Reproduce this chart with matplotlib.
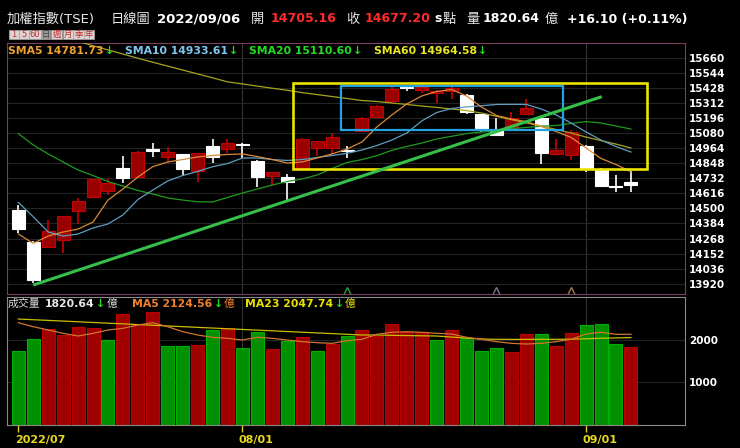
import numpy as np
import matplotlib.pyplot as plt
from matplotlib.patches import Rectangle
from matplotlib.text import Annotation

# 加權指數 日K 2022/07/11 ~ 2022/09/06
open_ = [14487, 14243, 14200, 14256, 14482, 14590, 14636, 14813, 14744, 14950,
         14898, 14916, 14790, 14980, 14955, 14992, 14865, 14752, 14744, 14808,
         14967, 14967, 14948, 15093, 15201, 15327, 15436, 15411, 15386, 15406,
         15373, 15224, 15103, 15121, 15224, 15198, 14916, 14911, 14982, 14795,
         14674, 14705.16]
high = [14526, 14250, 14411, 14445, 14582, 14728, 14724, 14903, 14940, 15001,
        14970, 14920, 14928, 15032, 15032, 15000, 14870, 14780, 14762, 15040,
        15022, 15083, 14982, 15200, 15292, 15444, 15440, 15470, 15410, 15437,
        15378, 15226, 15193, 15244, 15342, 15206, 15034, 15103, 14985, 14813,
        14757, 14788]
low = [14313, 13928, 14195, 14159, 14380, 14585, 14601, 14693, 14732, 14898,
       14859, 14749, 14705, 14852, 14929, 14886, 14662, 14680, 14559, 14800,
       14903, 14919, 14885, 15088, 15198, 15309, 15404, 15391, 15309, 15340,
       15224, 15090, 15058, 15115, 15220, 14839, 14910, 14872, 14778, 14670,
       14628, 14624]
close = [14339, 13948, 14326, 14441, 14557, 14724, 14698, 14731, 14936, 14945,
         14936, 14803, 14924, 14898, 15001, 14985, 14744, 14778, 14701, 15034,
         15019, 15052, 14942, 15198, 15290, 15420, 15427, 15432, 15404, 15424,
         15244, 15111, 15065, 15198, 15275, 14924, 14949, 15090, 14813, 14675,
         14661.10, 14677.20]

sma5 = [14303, 14231, 14287, 14318, 14341, 14395, 14564, 14649, 14741, 14821,
        14857, 14876, 14896, 14907, 14915, 14919, 14899, 14876, 14849, 14857,
        14888, 14919, 14957, 15011, 15127, 15219, 15304, 15365, 15400, 15415,
        15365, 15280, 15215, 15188, 15168, 15130, 15092, 15046, 14965, 14884,
        14838, 14781.73]
sma10 = [14546, 14436, 14318, 14287, 14303, 14349, 14380, 14449, 14568, 14641,
         14711, 14753, 14784, 14821, 14845, 14888, 14888, 14876, 14869, 14876,
         14892, 14907, 14924, 14949, 14984, 15026, 15080, 15173, 15238, 15269,
         15281, 15290, 15300, 15301, 15300, 15265, 15219, 15157, 15088, 15026,
         14976, 14933.61]
sma20 = [15076, 14988, 14919, 14857, 14795, 14753, 14707, 14672, 14638, 14611,
         14580, 14564, 14551, 14549, 14584, 14618, 14649, 14680, 14707, 14726,
         14757, 14807, 14853, 14876, 14906, 14947, 14977, 15003, 15034, 15055,
         15076, 15088, 15100, 15114, 15123, 15132, 15138, 15154, 15168, 15157,
         15134, 15110.60]
sma60 = [15905, 15875, 15845, 15815, 15785, 15752, 15720, 15688, 15656, 15625,
         15595, 15565, 15535, 15505, 15474, 15458, 15441, 15425, 15409, 15391,
         15376, 15361, 15346, 15330, 15323, 15311, 15300, 15288, 15277, 15265,
         15253, 15234, 15209, 15183, 15158, 15134, 15107, 15080, 15049, 15022,
         14995, 14964.58]

# 成交量(億)
volume = [1740, 2007, 2241, 2108, 2303, 2279, 1984, 2593, 2373, 2646,
          1850, 1850, 1874, 2218, 2272, 1796, 2186, 1780, 1975, 2061,
          1740, 1890, 2084, 2225, 2084, 2365, 2186, 2186, 1990, 2225,
          2030, 1740, 1796, 1710, 2138, 2124, 1850, 2162, 2335, 2365,
          1897, 1820.64]
vol_dir = "GGRRRRGRRRGGRGRGGRGRGRGRRRRRGRGGGRRGRRGGGR"
vol_ma5 = [2396, 2303, 2225, 2147, 2084, 2147, 2225, 2264, 2342, 2396,
           2303, 2186, 2108, 2054, 2030, 1991, 2054, 2030, 1991, 1952,
           1928, 1913, 1975, 2007, 2124, 2171, 2186, 2171, 2147, 2131,
           2054, 2007, 1952, 1913, 1897, 1913, 1952, 2007, 2131, 2171,
           2124, 2124.56]
vol_ma23 = [2482, 2466, 2450, 2434, 2418, 2401, 2385, 2369, 2352, 2336,
            2319, 2303, 2287, 2271, 2254, 2238, 2222, 2206, 2189, 2173,
            2157, 2141, 2124, 2108, 2108, 2100, 2095, 2090, 2084, 2060,
            2035, 2015, 2007, 2005, 2005, 2007, 2007, 2010, 2020, 2032,
            2040, 2047.74]

price_ticks = [15660, 15544, 15428, 15312, 15196, 15080, 14964, 14848,
               14732, 14616, 14500, 14384, 14268, 14152, 14036, 13920]
vol_ticks = [1000, 2000]
date_ticks = [0, 15, 38]
date_labels = ['2022/07', '08/01', '09/01']

# 手繪標註 (K棒序號, 價位)
trend_line = [(1.0, 13910), (39.05, 15360)]
yellow_box = [(18.4, 14803), (42.1, 15463)]
blue_box = [(21.58, 15103), (36.48, 15444)]
gap_marks = [(21.98, '#2f9a3f'), (32.0, '#6f7f8f'), (37.0, '#a08050')]

plt.rcParams['font.family'] = ['DejaVu Sans', 'Noto Sans CJK TC']

W, H = 740, 448
fig = plt.figure(figsize=(W / 100, H / 100), dpi=100, facecolor='black')


def box(x0, y0, x1, y1):
    return [x0 / W, 1 - y1 / H, (x1 - x0) / W, (y1 - y0) / H]


def ftext(x, y, s, color, size=9, weight='normal'):
    return fig.text(x / W, 1 - y / H, s, color=color, fontsize=size,
                    fontweight=weight, ha='left', va='center', zorder=10)


def chain(x, y, pieces, size=8):
    # 依序接在前一段文字後面
    prev = ftext(x, y, pieces[0][0], pieces[0][1], size, pieces[0][2])
    for s, col, wt, gap in pieces[1:]:
        prev = fig.add_artist(Annotation(
            s, xy=(1, 0.5), xycoords=prev, xytext=(gap, 0),
            textcoords='offset points', color=col, fontsize=size,
            fontweight=wt, ha='left', va='center', zorder=10))


idx = np.arange(len(close))
o = np.array(open_)
c = np.array(close)
up = c >= o

# ---- 價格圖 ----
ax = fig.add_axes(box(6.5, 43, 685, 294), facecolor='black')
ax.set_xlim(-0.79, 44.62)
ax.set_ylim(13841, 15773)
ax.set_yticks(price_ticks)
ax.set_yticklabels([str(v) for v in price_ticks], fontweight='bold')
ax.yaxis.tick_right()
ax.tick_params(axis='y', length=0, pad=3, labelcolor='white', labelsize=7.5)
ax.set_xticks([])
ax.grid(axis='y', color='#242424', lw=0.8)
for t in date_ticks[1:]:
    ax.axvline(t, color='#333333', lw=0.8, zorder=0)
for s in ax.spines.values():
    s.set_color('#7b3f63')

wick_col = np.where(up, '#cc0000', 'white')
body_col = np.where(up, '#9b0000', 'white')
edge_col = np.where(up, '#c40000', 'white')
ax.vlines(idx, low, high, colors=wick_col, lw=1.2, zorder=2)
ax.bar(idx, np.maximum(np.abs(c - o), 10), 0.87, bottom=np.minimum(o, c),
       color=body_col, edgecolor=edge_col, lw=0.8, zorder=3)

ax.plot(idx, sma60, color='#a8a41e', lw=0.9, zorder=4)
ax.plot(idx, sma20, color='#1f9b1f', lw=0.9, zorder=4)
ax.plot(idx, sma10, color='#5f9ec0', lw=0.9, zorder=4)
ax.plot(idx, sma5, color='#d98a3a', lw=0.9, zorder=4)

for x, col in gap_marks:
    ax.plot(x, 13866, marker='^', mfc='none', mec=col, ms=6, ls='none')

(bx0, by0), (bx1, by1) = yellow_box
ax.add_patch(Rectangle((bx0, by0), bx1 - bx0, by1 - by0, fill=False,
                       edgecolor='#ece400', lw=1.9, zorder=6))
(bx0, by0), (bx1, by1) = blue_box
ax.add_patch(Rectangle((bx0, by0), bx1 - bx0, by1 - by0, fill=False,
                       edgecolor='#27a2e0', lw=1.6, zorder=6))
ax.plot([p[0] for p in trend_line], [p[1] for p in trend_line],
        color='#35c04a', lw=2.2, solid_capstyle='butt', zorder=7)

# ---- 成交量圖 ----
axv = fig.add_axes(box(6.5, 297, 685, 425), facecolor='black')
axv.set_xlim(-0.79, 44.62)
axv.set_ylim(0, 2998)
vup = np.array([d == 'R' for d in vol_dir])
axv.bar(idx, volume, 0.87, color=np.where(vup, '#a00000', '#009000'),
        edgecolor=np.where(vup, '#bb0000', '#00b000'), lw=0.8, zorder=2)
axv.plot(idx, vol_ma23, color='#c8c000', lw=0.9, zorder=3)
axv.plot(idx, vol_ma5, color='#d2762e', lw=0.9, zorder=3)
axv.set_yticks(vol_ticks)
axv.set_yticklabels([str(v) for v in vol_ticks], fontweight='bold')
axv.yaxis.tick_right()
axv.tick_params(axis='y', length=0, pad=3, labelcolor='white', labelsize=7.5)
axv.grid(axis='y', color='#242424', lw=0.8)
for t in date_ticks[1:]:
    axv.axvline(t, color='#333333', lw=0.8, zorder=0)
axv.set_xticks(date_ticks)
axv.set_xticklabels([])
axv.tick_params(axis='x', color='#e0d020', length=5, width=1)
for s in axv.spines.values():
    s.set_color('#8a8a8a')
for t, lab in zip(date_ticks, date_labels):
    axv.annotate(lab, xy=(t, 0), xycoords=('data', 'axes fraction'),
                 xytext=(-2.5, -11), textcoords='offset points',
                 color='#e8d820', fontsize=8, fontweight='bold',
                 ha='left', va='center')

# ---- 標題列 ----
red = '#ff2a2a'
gray = '#e8e8e8'
ftext(7, 19, '加權指數(TSE)', gray, 9.5)
ftext(111, 19, '日線圖', gray, 9.5)
ftext(157, 19, '2022/09/06', 'white', 9.5, 'bold')
ftext(251, 19, '開', gray, 9.5)
ftext(271, 19, f'{open_[-1]:.2f}', red, 9, 'bold')
ftext(346, 19, '收', gray, 9.5)
ftext(365, 19, f'{close[-1]:.2f}', red, 9, 'bold')
ftext(434, 19, 's', 'white', 9, 'bold')
ftext(443, 19, '點', gray, 9.5)
ftext(466, 19, '量', gray, 9.5)
ftext(483, 19, f'{volume[-1]:.2f}', 'white', 9, 'bold')
ftext(545, 19, '億', gray, 9.5)
chg = close[-1] - close[-2]
ftext(567, 19, f'+{chg:.2f} (+{chg / close[-2] * 100:.2f}%)', 'white', 9, 'bold')

# 週期按鈕
btn_labels = ['1', '5', '60', '日', '週', '月', '季', '年']
btn_x = [9, 19, 29, 41, 51, 63, 73, 84, 94]
for i, lab in enumerate(btn_labels):
    sel = lab == '日'
    fig.add_artist(Rectangle((btn_x[i] / W, 1 - 39 / H), (btn_x[i + 1] - btn_x[i] - 0.5) / W,
                             9 / H, transform=fig.transFigure,
                             facecolor='#9a9a9a' if sel else '#dcd2d2',
                             edgecolor='#b0a8a8', lw=0.5))
    fig.text((btn_x[i] + btn_x[i + 1]) / 2 / W, 1 - 34.5 / H, lab,
             color='#404040' if sel else '#c03030', fontsize=6,
             ha='center', va='center')

# 均線說明
arrow = '#22dd22'
chain(8, 51, [(f'SMA5 {sma5[-1]:.2f}', '#f0a030', 'bold', 0),
              ('↓', arrow, 'bold', 1)], 7.8)
chain(125, 51, [(f'SMA10 {sma10[-1]:.2f}', '#7ec8f0', 'bold', 0),
                ('↓', arrow, 'bold', 1)], 7.8)
chain(249, 51, [(f'SMA20 {sma20[-1]:.2f}', '#22dd22', 'bold', 0),
                ('↓', arrow, 'bold', 1)], 7.8)
chain(374, 51, [(f'SMA60 {sma60[-1]:.2f}', '#e8e820', 'bold', 0),
                ('↓', arrow, 'bold', 1)], 7.8)

chain(8, 304, [('成交量', '#d8d8d8', 'normal', 0),
               (f'{volume[-1]:.2f}', '#e8e8e8', 'bold', 3),
               ('↓', arrow, 'bold', 1),
               ('億', '#d8d8d8', 'normal', 1)], 7.8)
chain(132, 304, [(f'MA5 {vol_ma5[-1]:.2f}', '#f08030', 'bold', 0),
                 ('↓', arrow, 'bold', 1),
                 ('億', '#f08030', 'normal', 1)], 7.8)
chain(245, 304, [(f'MA23 {vol_ma23[-1]:.2f}', '#e8e000', 'bold', 0),
                 ('↓', arrow, 'bold', 1),
                 ('億', '#e8e000', 'normal', 1)], 7.8)

fig.savefig('out.png', dpi=100, facecolor='black')
